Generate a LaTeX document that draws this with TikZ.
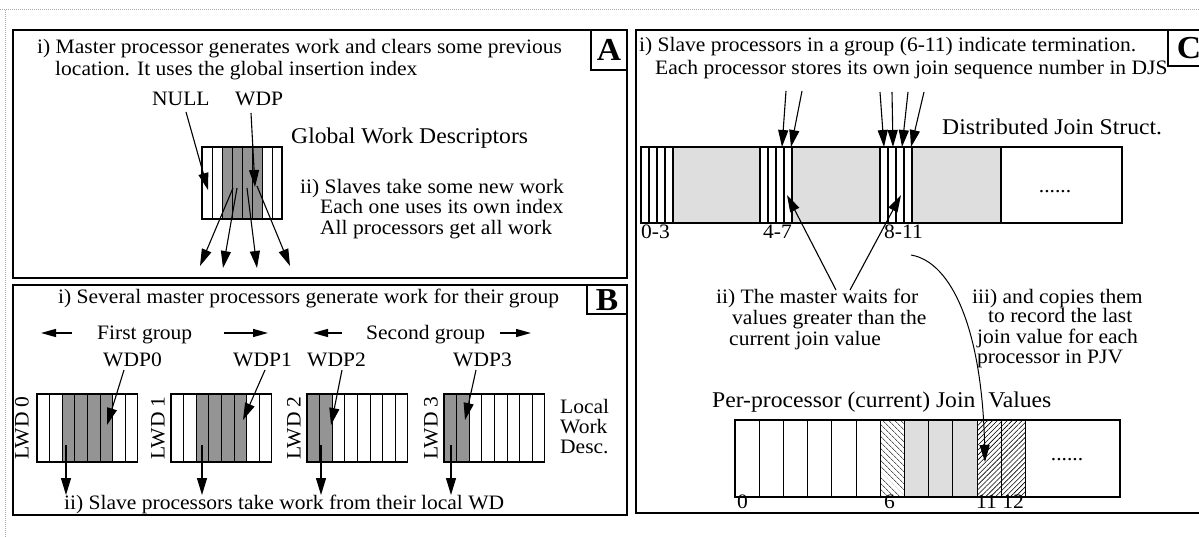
\documentclass[tikz,border=0pt]{standalone}
\usepackage{fontspec}
\setmainfont{Liberation Serif}[FakeStretch=1.05]
\usetikzlibrary{arrows.meta,patterns,patterns.meta}
\tikzset{
  bighead/.tip={Triangle[length=17pt,width=10pt]},
  midhead/.tip={Triangle[length=15pt,width=8pt]}
}
\begin{document}
\begin{tikzpicture}[x=1pt,y=-1pt,
  txt/.style={font=\fontsize{20.5}{22}\selectfont, inner sep=0pt, anchor=base west},
  ttl/.style={font=\fontsize{22.5}{24}\selectfont, inner sep=0pt, anchor=base west},
  ctxt/.style={font=\fontsize{20.5}{22}\selectfont, inner sep=0pt},
  panel/.style={draw, line width=1.8pt},
  lblbox/.style={draw, line width=1.5pt},
  lbl/.style={font=\fontsize{32}{32}\bfseries\selectfont, inner sep=0pt},
  col/.style={line width=1pt},
  dcol/.style={line width=1.4pt},
  frame/.style={line width=1.3pt},
  darkfill/.style={fill=black!42},
  lightfill/.style={fill=black!13},
  arr/.style={-bighead, line width=1.1pt},
  garr/.style={-midhead, line width=1.4pt},
  scan/.style={gray!70, line width=1pt, densely dotted}
]
\useasboundingbox (0,0) rectangle (1199,537);
% scan edges
\draw[scan] (0,10) -- (1199,10);
\draw[scan] (5,10) -- (5,537);

% ================= Panel A =================
\draw[panel] (13,30) rectangle (627,278);
\draw[lblbox] (591,30) rectangle (627,70);
\node[lbl] (labA) at (609,50) {A};
\node[txt] (a1) at (37,54) {i) Master processor generates work and clears some previous};
\node[txt] (a2) at (55,76) {location. It uses the global insertion index};
\node[txt] (null) at (152,106) {NULL};
\node[txt] (wdp) at (235,106) {WDP};
\node[ttl] (gwd) at (291,144) {Global Work Descriptors};
\node[txt] (a3) at (300,194) {ii) Slaves take some new work};
\node[txt] (a4) at (320,214) {Each one uses its own index};
\node[txt] (a5) at (320,235) {All processors get all work};
% global array
\fill[darkfill] (222,147) rectangle (262,219);
\foreach \xx in {212,222,...,272} \draw[col] (\xx,147) -- (\xx,219);
\draw[frame] (202,147) rectangle (282,219);
\coordinate (nullS) at (186,112);
\coordinate (nullT) at (208,190);
\coordinate (wdpS) at (251,113);
\coordinate (wdpT) at (255,187);
\draw[arr] (nullS) -- (nullT);
\draw[arr] (wdpS) -- (wdpT);
\coordinate (o1s) at (233,188); \coordinate (o1t) at (200,266);
\coordinate (o2s) at (237,188); \coordinate (o2t) at (223,268);
\coordinate (o3s) at (247,188); \coordinate (o3t) at (257,268);
\coordinate (o4s) at (257,186); \coordinate (o4t) at (290,266);
\draw[arr] (o1s) -- (o1t);
\draw[arr] (o2s) -- (o2t);
\draw[arr] (o3s) -- (o3t);
\draw[arr] (o4s) -- (o4t);

% ================= Panel B =================
\draw[panel] (13,285) rectangle (627,515);
\draw[lblbox] (587,285) rectangle (627,314);
\node[lbl] (labB) at (607,300) {B};
\node[txt] (b1) at (58,304) {i) Several master processors generate work for their group};
\node[txt] (g1) at (97,339) {First group};
\node[txt] (g2) at (366,339) {Second group};
\coordinate (g1la) at (72,333); \coordinate (g1lb) at (41,333);
\coordinate (g1ra) at (224,333); \coordinate (g1rb) at (268,333);
\coordinate (g2la) at (342,333); \coordinate (g2lb) at (313,333);
\coordinate (g2ra) at (500,333); \coordinate (g2rb) at (531,333);
\draw[garr] (g1la) -- (g1lb);
\draw[garr] (g1ra) -- (g1rb);
\draw[garr] (g2la) -- (g2lb);
\draw[garr] (g2ra) -- (g2rb);
\node[txt] (w0) at (103,366) {WDP0};
\node[txt] (w1) at (233,366) {WDP1};
\node[txt] (w2) at (307,366) {WDP2};
\node[txt] (w3) at (453,366) {WDP3};
% local arrays
\def\cw{12.6}
\foreach \xo/\sa/\sb in {37/2/6, 171/2/6, 307/0/2, 444/0/2}{
  \fill[darkfill] ({\xo+\sa*\cw},394) rectangle ({\xo+\sb*\cw},462);
  \foreach \k in {1,...,7} \draw[col] ({\xo+\k*\cw},394) -- ({\xo+\k*\cw},462);
  \draw[frame] (\xo,394) rectangle ({\xo+8*\cw},462);
}
\node[ctxt, rotate=90] (l0) at (22,428) {LWD 0};
\node[ctxt, rotate=90] (l1) at (158,428) {LWD 1};
\node[ctxt, rotate=90] (l2) at (294,428) {LWD 2};
\node[ctxt, rotate=90] (l3) at (431,428) {LWD 3};
\node[txt] (loc1) at (560,413) {Local};
\node[txt] (loc2) at (560,433) {Work};
\node[txt] (loc3) at (560,453) {Desc.};
\coordinate (w0s) at (124,370); \coordinate (w0t) at (107,425);
\coordinate (w1s) at (265,370); \coordinate (w1t) at (243,420);
\coordinate (w2s) at (342,370); \coordinate (w2t) at (331,425);
\coordinate (w3s) at (476,370); \coordinate (w3t) at (465,420);
\draw[arr] (w0s) -- (w0t);
\draw[arr] (w1s) -- (w1t);
\draw[arr] (w2s) -- (w2t);
\draw[arr] (w3s) -- (w3t);
\foreach \xx/\nm in {66/d0, 202/d1, 321/d2, 451/d3}{
  \coordinate (\nm s) at (\xx,445);
  \coordinate (\nm t) at (\xx,495);
  \draw[arr] (\nm s) -- (\nm t);
}
\node[txt] (b2) at (64,509) {ii) Slave processors take work from their local WD};

% ================= Panel C =================
\draw[panel] (636,30) rectangle (1210,513);
\draw[lblbox] (1168,30) rectangle (1210,66);
\node[lbl] (labC) at (1189,48) {C};
\node[txt] (c1) at (639,52) {i) Slave processors in a group (6-11) indicate termination.};
\node[txt] (c2) at (655,75) {Each processor stores its own join sequence number in DJS};
\node[ttl] (djs) at (942,135) {Distributed Join Struct.};
% DJS bar
\fill[lightfill] (673,147) rectangle (760,223);
\fill[lightfill] (792,147) rectangle (880,223);
\fill[lightfill] (912,147) rectangle (1001,223);
\foreach \xx in {649,657,665,673, 760,768,776,784,792, 880,888,896,904,912, 1001}
  \draw[dcol] (\xx,147) -- (\xx,223);
\draw[frame] (641,147) rectangle (1122,223);
\node[ctxt] (dots1) at (1055,192) {......};
\node[txt] (r03) at (641,239) {0-3};
\node[txt] (r47) at (763,239) {4-7};
\node[txt] (r811) at (884,239) {8-11};
% arrows into DJS
\coordinate (t1s) at (786,91); \coordinate (t1t) at (782,147);
\coordinate (t2s) at (802,91); \coordinate (t2t) at (791,147);
\coordinate (t3s) at (880,92); \coordinate (t3t) at (884,147);
\coordinate (t4s) at (892,92); \coordinate (t4t) at (893,147);
\coordinate (t5s) at (908,92); \coordinate (t5t) at (902,147);
\coordinate (t6s) at (924,92); \coordinate (t6t) at (911,147);
\foreach \n in {1,...,6} \draw[arr] (t\n s) -- (t\n t);
% ii) text
\node[txt] (m1) at (716,303) {ii) The master waits for};
\node[txt] (m2) at (732,324) {values greater than the};
\node[txt] (m3) at (729,345) {current join value};
\coordinate (m1s) at (836,290); \coordinate (m1t) at (787,195);
\coordinate (m2s) at (850,290); \coordinate (m2t) at (901,195);
\draw[arr] (m1s) -- (m1t);
\draw[arr] (m2s) -- (m2t);
% iii) text
\node[txt] (k1) at (972,303) {iii) and copies them};
\node[txt] (k2) at (988,323) {to record the last};
\node[txt] (k3) at (977,343) {join value for each};
\node[txt] (k4) at (977,363) {processor in PJV};
\node[ttl] (pjv) at (712,407) {Per-processor (current) Join\hspace{7pt} Values};
% PJV bar
\def\pw{24.2}
\fill[pattern={Lines[angle=-45,distance=4pt,line width=0.6pt]}] ({735+6*\pw},420) rectangle ({735+7*\pw},497);
\fill[lightfill] ({735+7*\pw},420) rectangle ({735+10*\pw},497);
\fill[pattern={Lines[angle=45,distance=3.5pt,line width=0.6pt]}] ({735+10*\pw},420) rectangle ({735+12*\pw},497);
\foreach \k in {1,...,12} \draw[col] ({735+\k*\pw},420) -- ({735+\k*\pw},497);
\draw[frame] (735,420) rectangle (1120,497);
\node[ctxt] (dots2) at (1067,460) {......};
\node[txt] (p0) at (737,508) {0};
\node[txt] (p6) at (884,508) {6};
\node[txt] (p11) at (976,508) {11 12};
% copy curve
\coordinate (cs) at (911,255);
\coordinate (ct) at (985,462);
\draw[arr, line width=1pt] (cs) .. controls (952,262) and (982,330) .. (ct);
\end{tikzpicture}
\end{document}
